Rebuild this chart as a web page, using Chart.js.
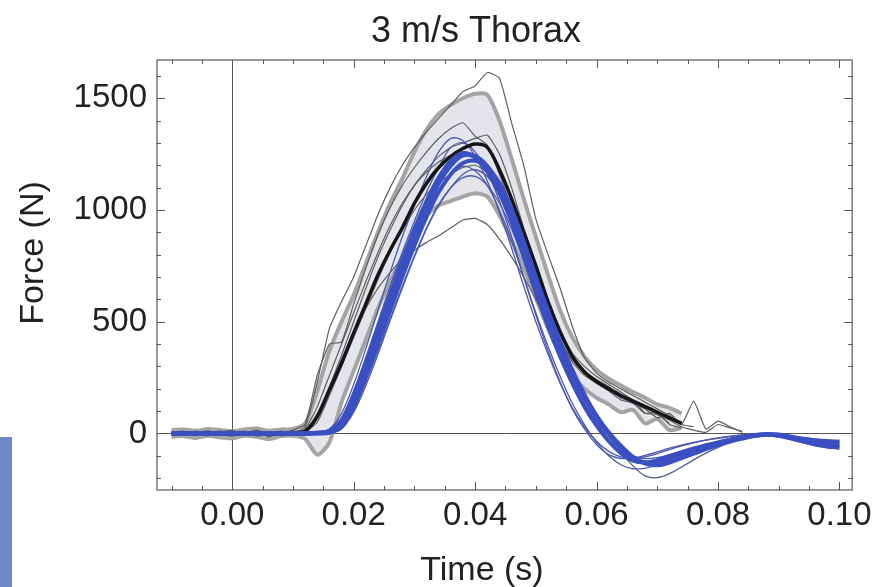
<!DOCTYPE html>
<html><head><meta charset="utf-8">
<script src="https://cdn.jsdelivr.net/npm/chart.js@4"></script>
<style>
html,body{margin:0;padding:0;background:#fff;}
#wrap{position:relative;width:878px;height:587px;overflow:hidden;}
#strip{position:absolute;left:0;top:437px;width:12px;height:150px;background:#6f88c4;}
canvas{display:block;}
</style></head><body>
<div id="wrap"><canvas id="c" width="878" height="587"></canvas><div id="strip"></div></div>
<script>
// ---------- data ----------
const time = [-0.010,-0.008,-0.006,-0.004,-0.002,0.000,0.002,0.004,0.006,0.008,0.010,0.012,0.014,0.016,0.018,0.020,0.022,0.024,0.026,0.028,0.030,0.032,0.034,0.036,0.038,0.040,0.042,0.044,0.046,0.048,0.050,0.052,0.054,0.056,0.058,0.060,0.062,0.064,0.066,0.068,0.070,0.072,0.074,0.076,0.078,0.080,0.082,0.084,0.086,0.088,0.090,0.092,0.094,0.096,0.098,0.100];

const xTickValues = [0.00, 0.02, 0.04, 0.06, 0.08, 0.10];
const yTickValues = [0, 500, 1000, 1500];

// model (blue) – thick
const modelThick1 = [0,0,0,0,0,0,0,0,0,0,0,0,2,8,45,150,290,440,590,740,880,1010,1120,1200,1245,1240,1195,1110,990,840,680,530,395,265,160,70,0,-65,-110,-130,-126,-110,-92,-74,-57,-43,-30,-18,-9,-5,-8,-18,-30,-40,-48,-52];
const modelThick2 = [0,0,0,0,0,0,0,0,0,0,0,0,0,3,30,120,255,400,550,700,840,970,1080,1160,1210,1220,1190,1120,1005,860,700,550,410,285,175,80,5,-55,-105,-135,-142,-130,-110,-90,-70,-52,-36,-23,-12,-6,-10,-22,-35,-48,-58,-62];
const modelThick3 = [0,0,0,0,0,0,0,0,0,0,0,0,3,12,60,175,320,475,625,775,915,1040,1145,1220,1255,1235,1170,1075,945,790,630,480,345,225,120,35,-35,-88,-122,-130,-120,-102,-84,-67,-53,-40,-28,-16,-7,-3,-5,-14,-24,-32,-38,-42];
// model (blue) – thin
const modelThin1 = [0,0,0,0,0,0,0,0,0,0,0,0,2,15,70,190,340,500,660,810,950,1080,1190,1280,1300,1260,1170,1040,880,700,530,370,230,110,20,-50,-95,-112,-110,-98,-82,-66,-52,-40,-30,-22,-14,-8,-4,-2,-4,-10,-18,-24,-28,-30];
const modelThin2 = [0,0,0,0,0,0,0,0,0,0,0,0,0,5,45,150,290,440,590,735,870,990,1090,1160,1195,1175,1110,1000,860,700,540,390,255,135,40,-40,-100,-140,-158,-155,-140,-120,-98,-78,-60,-45,-32,-20,-10,-5,-8,-16,-24,-30,-33,-35];
const modelThin3 = [0,0,0,0,0,0,0,0,0,0,0,0,0,2,25,105,230,370,515,660,795,920,1025,1100,1145,1150,1110,1030,915,775,625,480,350,235,135,50,-15,-65,-100,-112,-108,-95,-80,-66,-54,-42,-30,-20,-12,-8,-14,-28,-42,-55,-64,-70];
const modelThin4 = [0,0,0,0,0,0,0,0,0,0,0,0,0,0,20,95,215,355,505,650,790,915,1020,1100,1160,1180,1150,1075,960,815,660,510,375,255,150,60,-15,-85,-145,-190,-198,-180,-150,-118,-88,-62,-40,-22,-10,-4,-8,-20,-35,-48,-56,-60];
const modelThin5 = [0,0,0,0,0,0,0,0,0,0,0,0,3,20,90,220,380,550,720,880,1020,1150,1260,1320,1310,1240,1130,990,830,660,500,355,225,115,30,-35,-80,-105,-112,-105,-90,-72,-56,-42,-30,-20,-12,-6,-3,-2,-6,-14,-22,-28,-32,-34];

// PMHS tests (gray, thin)
const test1 = [0,8,-6,10,-4,-12,6,-2,-10,8,0,30,230,470,590,700,840,980,1100,1200,1280,1350,1410,1470,1530,1555,1615,1590,1390,1200,960,800,650,480,340,270,230,200,170,140,110,80,40,145,20,55,30,5];
const test2 = [0,-5,10,-8,5,15,-10,5,-15,5,10,15,80,200,330,450,560,650,720,780,820,855,885,920,955,962,935,870,790,700,600,500,405,330,270,225,190,150,135,90,95,40,25];
const test3 = [5,-8,0,12,-5,0,10,-12,0,-5,15,40,260,400,410,580,740,890,1010,1110,1190,1260,1320,1365,1390,1330,1290,1160,1010,860,710,570,440,340,280,240,205,165,140,120,85,60,30,15,5,40,25,10];
const test4 = [-5,5,0,-10,8,0,-5,10,-8,0,5,10,90,210,350,500,650,790,910,1020,1110,1180,1240,1280,1300,1320,1335,1250,1100,920,760,600,460,360,300,255,220,185,150,125,100,70,45];
const test5 = [0,10,-5,0,12,-8,0,15,-5,10,-5,5,50,170,300,430,560,690,810,910,1000,1070,1120,1160,1190,1200,1170,1100,990,860,720,580,450,350,280,240,210,160,150,90,85,45];
const test6 = [5,0,-10,5,0,10,-5,0,8,-10,0,20,120,260,400,540,680,810,930,1030,1110,1170,1215,1245,1250,1230,1180,1090,970,830,690,550,420,320,260,225,195,160,135,110,70,90,40,30];

// PMHS mean and corridor (mean ± SD)
const testMean = [0,2,0,3,0,-2,0,2,-3,0,3,10,75,195,315,450,580,710,820,920,1030,1120,1190,1240,1275,1295,1280,1180,1050,900,750,590,455,345,275,232,200,170,145,120,95,70,45];
const corridorUpper = [15,18,12,20,15,10,18,22,12,18,20,45,190,370,500,620,760,900,1030,1140,1260,1360,1430,1470,1500,1520,1515,1400,1230,1050,880,710,550,430,345,285,245,215,185,160,130,115,90];
const corridorLower = [-15,-12,-20,-10,-18,-22,-10,-15,-25,-12,-10,-25,-95,-40,140,280,420,560,680,790,900,975,1020,1040,1060,1075,1060,975,865,740,605,470,355,260,200,160,130,95,105,45,65,15,25];

// ---------- chart ----------
const pts = vals => vals.map((v, i) => ({x: time[i], y: v}));
const FONT = '"Liberation Sans", Arial, Helvetica, sans-serif';

const line = (vals, color, width, tension, extra) => Object.assign({
  data: pts(vals), borderColor: color, borderWidth: width, pointRadius: 0,
  tension: tension, fill: false, backgroundColor: 'transparent'
}, extra || {});

const BLUE_THICK = '#3a4fc2', BLUE_THIN = '#4a58b0', GRAY_THIN = '#5e5e5e';

const datasets = [
  line(modelThick1, BLUE_THICK, 4.5, 0.35),
  line(modelThick2, BLUE_THICK, 4, 0.35),
  line(modelThick3, BLUE_THICK, 4, 0.35),
  line(testMean, '#161616', 3.5, 0.3),
  line(modelThin1, BLUE_THIN, 1.3, 0.35),
  line(modelThin2, BLUE_THIN, 1.3, 0.35),
  line(modelThin3, BLUE_THIN, 1.3, 0.35),
  line(modelThin4, '#4f5898', 1.3, 0.35),
  line(modelThin5, BLUE_THIN, 1.3, 0.35),
  line(test1, GRAY_THIN, 1.2, 0.15),
  line(test2, GRAY_THIN, 1.2, 0.15),
  line(test3, GRAY_THIN, 1.2, 0.15),
  line(test4, GRAY_THIN, 1.2, 0.15),
  line(test5, GRAY_THIN, 1.2, 0.15),
  line(test6, GRAY_THIN, 1.2, 0.15),
  line(corridorUpper, '#a4a4a4', 4, 0.25, {fill: '+1', backgroundColor: '#e3e5ea'}),
  line(corridorLower, '#a4a4a4', 4, 0.25)
];

const frameTicks = {
  id: 'frameTicks',
  afterDraw(chart) {
    const {ctx, chartArea: a, scales: {x, y}} = chart;
    ctx.save();
    ctx.strokeStyle = '#7a7a7a';
    ctx.lineWidth = 1.5;
    ctx.strokeRect(a.left, a.top, a.right - a.left, a.bottom - a.top);
    ctx.strokeStyle = '#555';
    ctx.lineWidth = 1;
    ctx.beginPath();
    for (let k = -2; k <= 20; k++) {
      const px = Math.round(x.getPixelForValue(k * 0.005)) + 0.5;
      const len = (k % 4 === 0) ? 8 : 4;
      ctx.moveTo(px, a.bottom); ctx.lineTo(px, a.bottom - len);
      ctx.moveTo(px, a.top); ctx.lineTo(px, a.top + len);
    }
    for (let k = -2; k <= 16; k++) {
      const py = Math.round(y.getPixelForValue(k * 100)) + 0.5;
      const len = (k % 5 === 0) ? 8 : 4;
      ctx.moveTo(a.left, py); ctx.lineTo(a.left + len, py);
      ctx.moveTo(a.right, py); ctx.lineTo(a.right - len, py);
    }
    ctx.stroke();
    // titles
    ctx.fillStyle = '#222';
    ctx.textAlign = 'center';
    ctx.textBaseline = 'alphabetic';
    ctx.font = '36px ' + FONT;
    ctx.fillText('3 m/s Thorax', 476, 42);
    ctx.font = '34px ' + FONT;
    ctx.fillText('Time (s)', 482, 580);
    ctx.translate(43, 253);
    ctx.rotate(-Math.PI / 2);
    ctx.fillText('Force (N)', 0, 0);
    ctx.restore();
  }
};

new Chart(document.getElementById('c'), {
  type: 'line',
  data: {datasets},
  plugins: [frameTicks],
  options: {
    responsive: false,
    devicePixelRatio: 1,
    animation: false,
    layout: {padding: {left: 0, right: 25, top: 60, bottom: 0}},
    plugins: {
      legend: {display: false},
      tooltip: {enabled: false},
      title: {display: false},
      filler: {drawTime: 'beforeDatasetsDraw'}
    },
    scales: {
      x: {
        type: 'linear', min: -0.0124, max: 0.1021,
        afterBuildTicks: s => { s.ticks = xTickValues.map(v => ({value: v})); },
        afterFit: s => { s.height = 97; },
        border: {display: false},
        grid: {drawTicks: false, lineWidth: 1, color: c => (c.tick && c.tick.value === 0) ? '#555' : 'rgba(0,0,0,0)'},
        ticks: {color: '#222', padding: 6, font: {family: FONT, size: 33}, maxRotation: 0, autoSkip: false,
                callback: v => Number(v).toFixed(2)}
      },
      y: {
        type: 'linear', min: -253, max: 1671,
        afterBuildTicks: s => { s.ticks = yTickValues.map(v => ({value: v})); },
        afterFit: s => { s.width = 157; },
        border: {display: false},
        grid: {drawTicks: false, lineWidth: 1, color: c => (c.tick && c.tick.value === 0) ? '#555' : 'rgba(0,0,0,0)'},
        ticks: {color: '#222', padding: 10, font: {family: FONT, size: 33}, autoSkip: false,
                callback: v => String(v)}
      }
    }
  }
});
</script>
</body></html>
